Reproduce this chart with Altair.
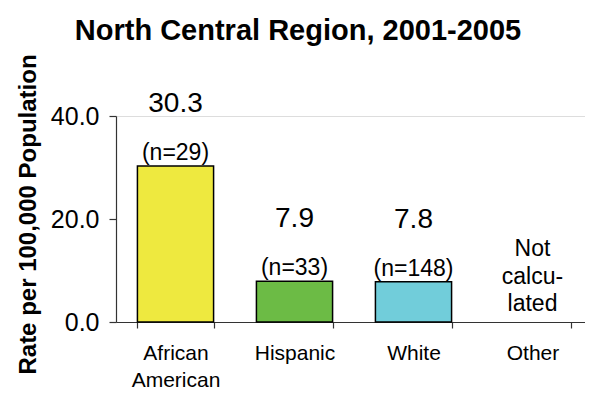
import altair as alt
import pandas as pd

categories = ["African American", "Hispanic", "White", "Other"]
rates = [30.3, 7.9, 7.8, None]
n_labels = ["(n=29)", "(n=33)", "(n=148)", ""]
notes = ["", "", "", "Not|calcu-|lated"]
colors = ["#EEE93F", "#6CBB45", "#71CDDA", "#FFFFFF"]

df = pd.DataFrame({
    "category": categories,
    "rate": rates,
    "n": n_labels,
    "note": notes,
    "color": colors,
})

FONT = "Liberation Sans"

x_enc = alt.X(
    "category:N",
    sort=categories,
    scale=alt.Scale(paddingInner=0.36, paddingOuter=0.18),
    axis=alt.Axis(
        title=None,
        labelAngle=0,
        labelFont=FONT,
        labelFontSize=21,
        labelColor="#000000",
        labelPadding=14,
        labelLineHeight=27,
        labelExpr="datum.label == 'African American' ? ['African', 'American'] : datum.label",
        tickBand="extent",
        tickSize=6,
        tickColor="#333333",
        domainColor="#333333",
        domainWidth=1.2,
        tickWidth=1.2,
    ),
)

y_scale = alt.Scale(domain=[0, 40], nice=False)

bars = alt.Chart(df).mark_bar(stroke="#000000", strokeWidth=1.5).encode(
    x=x_enc,
    y=alt.Y(
        "rate:Q",
        scale=y_scale,
        axis=alt.Axis(
            title="Rate per 100,000 Population",
            titleFont=FONT,
            titleFontSize=24,
            titleFontWeight="bold",
            titleColor="#000000",
            titleX=-88,
            titleY=98,
            titleAlign="center",
            titleBaseline="middle",
            titleAngle=-90,
            values=[0, 20, 40],
            format=".1f",
            labelFont=FONT,
            labelFontSize=25,
            labelColor="#000000",
            labelPadding=10,
            tickSize=7,
            tickColor="#333333",
            domainColor="#333333",
            domainWidth=1.2,
            tickWidth=1.2,
            grid=False,
        ),
    ),
    color=alt.Color("color:N", scale=None),
)

value_text = alt.Chart(df).transform_filter("isValid(datum.rate)").mark_text(
    font=FONT, fontSize=28, baseline="middle", dy=-62, color="#000000"
).encode(
    x=alt.X("category:N", sort=categories),
    y=alt.Y("rate:Q", scale=y_scale),
    text=alt.Text("rate:Q", format=".1f"),
)

n_text = alt.Chart(df).transform_filter("isValid(datum.rate)").mark_text(
    font=FONT, fontSize=23, baseline="bottom", dy=-1, color="#000000"
).encode(
    x=alt.X("category:N", sort=categories),
    y=alt.Y("rate:Q", scale=y_scale),
    text="n:N",
)

note_text = alt.Chart(df).transform_filter("datum.note != ''").transform_calculate(
    lines="split(datum.note, '|')"
).mark_text(
    font=FONT, fontSize=23, baseline="bottom", dy=-61, lineHeight=27.5, color="#000000"
).encode(
    x=alt.X("category:N", sort=categories),
    y=alt.datum(0),
    text="lines:N",
)

chart = alt.layer(bars, value_text, n_text, note_text).properties(
    width=476,
    height=206,
    title=alt.TitleParams(
        "North Central Region, 2001-2005",
        font=FONT,
        fontSize=29,
        fontWeight="bold",
        color="#000000",
        anchor="middle",
        frame="group",
        dx=-56,
        offset=8,
    ),
    autosize=alt.AutoSizeParams(type="none"),
    padding={"left": 108, "top": 108, "right": -7, "bottom": 70},
).configure_view(stroke=None).configure(background="#FFFFFF")

chart.save("out.html", embed_options={"renderer": "svg", "actions": False})
